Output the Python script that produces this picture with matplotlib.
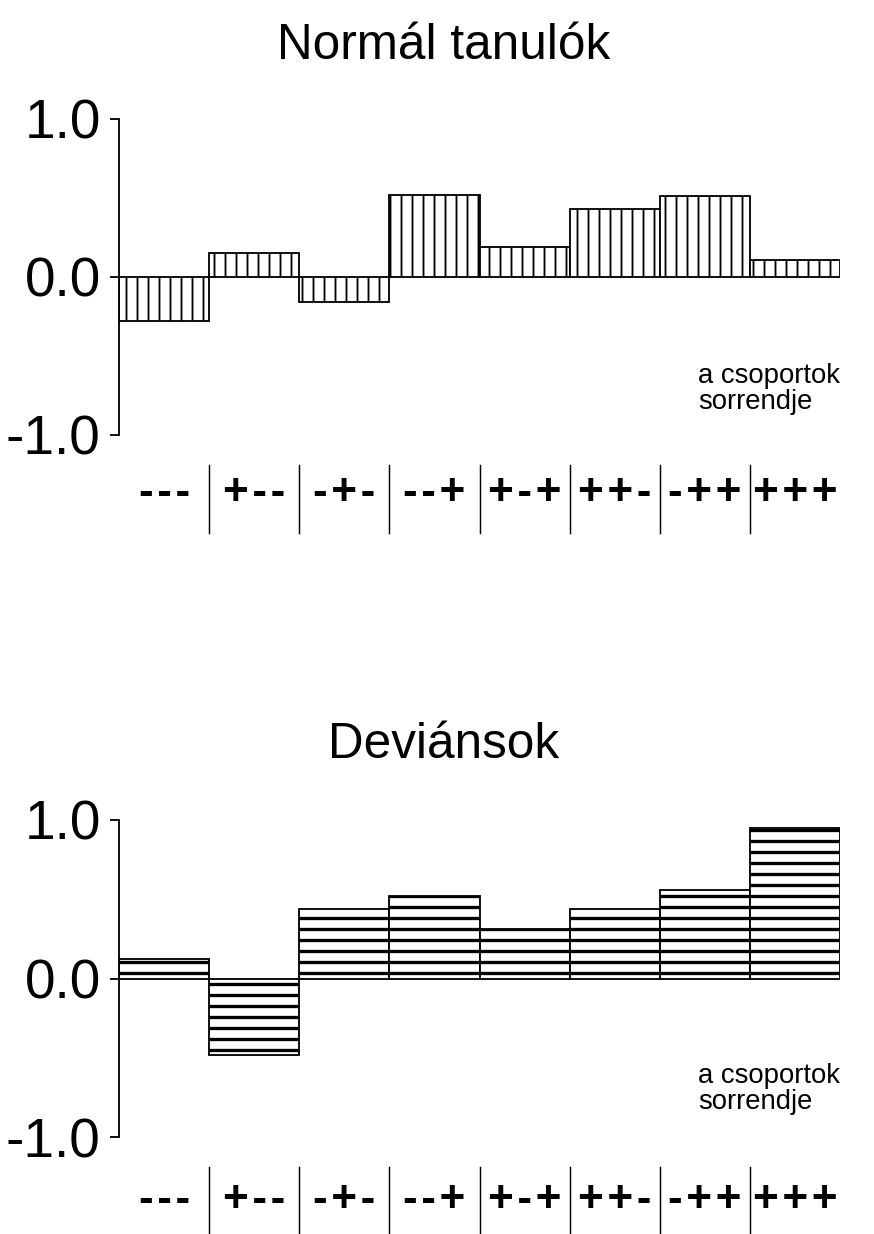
import matplotlib
matplotlib.use("Agg")
import matplotlib.pyplot as plt
import matplotlib.transforms as mtransforms

# csoportok sorrendje
categories = ["---", "+--", "-+-", "--+", "+-+", "++-", "-++", "+++"]
normal_values = [-0.28, 0.15, -0.16, 0.52, 0.19, 0.43, 0.51, 0.11]
deviant_values = [0.12, -0.48, 0.44, 0.52, 0.31, 0.44, 0.56, 0.95]
y_ticks = [-1.0, 0.0, 1.0]
y_tick_labels = ["-1.0", "0.0", "1.0"]

plt.rcParams['font.family'] = ['Liberation Sans', 'DejaVu Sans']

DPI = 132
fig = plt.figure(figsize=(874 / DPI, 1234 / DPI), dpi=DPI)


def spaced(s):
    # a little air between the signs, like in the original
    return "\u200a".join(s)


def panel(rect, values, title, title_y, hatch, hatch_lw, note_y, label_y, sep_y):
    ax = fig.add_axes(rect)
    plt.rcParams['hatch.linewidth'] = hatch_lw
    x = list(range(len(values)))
    bars = ax.bar(x, values, width=1.0, color="white", edgecolor="black",
                  linewidth=1.0, hatch=hatch)
    for b in bars:
        if hasattr(b, "set_hatch_linewidth"):
            b.set_hatch_linewidth(hatch_lw)
    ax.set_xlim(-0.5, len(values) - 0.5)
    ax.set_ylim(-1.0, 1.0)
    for s in ["top", "right", "bottom"]:
        ax.spines[s].set_visible(False)
    ax.spines["left"].set_linewidth(1.0)
    ax.set_xticks([])
    ax.set_yticks(y_ticks)
    ax.set_yticklabels(y_tick_labels)
    ax.tick_params(axis="y", direction="out", length=5, width=1.0,
                   labelsize=30, pad=5)

    # category labels and separators below the axis
    trans = mtransforms.blended_transform_factory(ax.transData, ax.transAxes)
    for i, c in enumerate(categories):
        ax.text(i, label_y, spaced(c), transform=trans, ha="center", va="center",
                fontsize=24, fontweight="bold", clip_on=False)
    for i in range(1, len(categories)):
        ax.plot([i - 0.5, i - 0.5], sep_y, transform=trans, color="black",
                linewidth=0.8, clip_on=False)

    ax.text(0.803, note_y, "a csoportok\nsorrendje", transform=ax.transAxes,
            ha="left", va="center", fontsize=15, linespacing=1.0)
    fig.text(0.508, title_y, title, ha="center", va="center", fontsize=27)
    return ax


panel([0.1362, 0.6475, 0.825, 0.2561], normal_values, "Normál tanulók",
      0.963, "||", 1.0, 0.145, -0.185, [-0.095, -0.31])
panel([0.1362, 0.0786, 0.825, 0.2569], deviant_values, "Deviánsok",
      0.396, "--", 1.8, 0.15, -0.2, [-0.095, -0.32])

fig.savefig("out.png", dpi=DPI)
